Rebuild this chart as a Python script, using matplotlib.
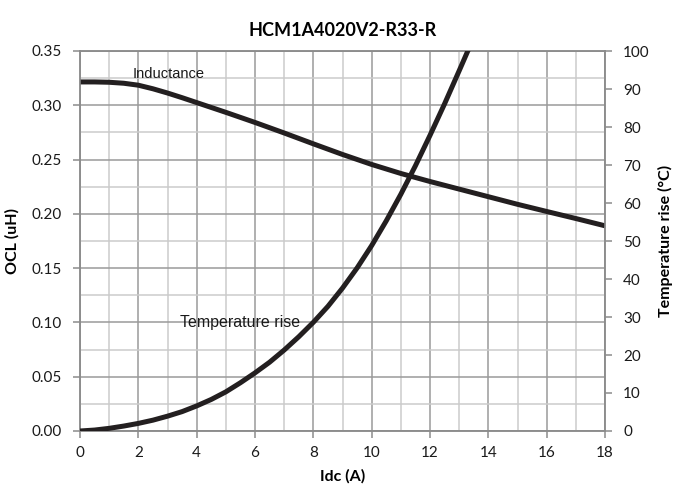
import matplotlib
matplotlib.use("Agg")
import matplotlib.pyplot as plt
from matplotlib.ticker import MultipleLocator

title = "HCM1A4020V2-R33-R"
x_label = "Idc (A)"
y_left_label = "OCL (uH)"
y_right_label = "Temperature rise (°C)"

idc_L = [0, 0.5, 1, 1.5, 2, 2.5, 3, 3.5, 4, 5, 6, 7, 8, 9, 10, 11, 12, 13, 14, 15, 16, 17, 18]
ocl = [0.3215, 0.3215, 0.3212, 0.3203, 0.3185, 0.3152, 0.3113, 0.3070, 0.3025, 0.2935,
       0.2842, 0.2745, 0.2645, 0.2547, 0.2455, 0.2372, 0.2298, 0.2228, 0.2158, 0.2088,
       0.2022, 0.1957, 0.189]

idc_T = [0, 0.5, 1, 1.5, 2, 2.5, 3, 3.5, 4, 4.5, 5, 5.5, 6, 6.5, 7, 7.5, 8, 8.5, 9,
         9.5, 10, 10.5, 11, 11.5, 12, 12.5, 13, 13.5]
temp = [0, 0.25, 0.7, 1.3, 2.0, 2.85, 3.9, 5.1, 6.6, 8.3, 10.3, 12.7, 15.3, 18.1, 21.3,
        24.8, 28.6, 32.8, 37.6, 42.9, 48.8, 55.3, 62.3, 69.8, 77.8, 86.1, 94.8, 103.6]

fig = plt.figure(figsize=(6.75, 4.91), dpi=100)
ax = fig.add_axes([80/675, 60/491, 525/675, 380/491])
ax2 = ax.twinx()

tick_font = "Lato"
grid_major = "#9a9a9a"
grid_minor = "#cbcbcb"
spine_c = "#8c8c8c"
line_c = "#231f20"

ax.set_xlim(0, 18)
ax.set_ylim(0, 0.35)
ax2.set_ylim(0, 100)

ax.xaxis.set_major_locator(MultipleLocator(2))
ax.xaxis.set_minor_locator(MultipleLocator(1))
ax.yaxis.set_major_locator(MultipleLocator(0.05))
ax.yaxis.set_minor_locator(MultipleLocator(0.025))
ax2.yaxis.set_major_locator(MultipleLocator(10))

ax.grid(which="major", color=grid_major, linewidth=1.1, zorder=0)
ax.grid(which="minor", color=grid_minor, linewidth=1.1, zorder=0)
ax.set_axisbelow(True)

ax.plot(idc_L, ocl, color=line_c, linewidth=3.6, solid_capstyle="butt",
        solid_joinstyle="round", zorder=3)
ax2.plot(idc_T, temp, color=line_c, linewidth=3.6, solid_capstyle="butt",
         solid_joinstyle="round", zorder=3)

ax.set_yticks(ax.get_yticks())
ax.set_yticklabels([f"{v:.2f}" for v in ax.get_yticks()])
ax.set_ylim(0, 0.35)

for a in (ax, ax2):
    for s in a.spines.values():
        s.set_color(spine_c)
        s.set_linewidth(1.1)
ax.tick_params(which="major", direction="out", length=5, width=1.1, color=spine_c,
               labelsize=11, labelcolor="#1a1a1a", pad=6)
ax.tick_params(which="minor", length=0)
ax.tick_params(axis="y", pad=8)
ax2.tick_params(which="major", direction="out", length=5, width=1.1, color=spine_c,
                labelsize=11, labelcolor="#1a1a1a", pad=8)
for lbl in ax.get_xticklabels() + ax.get_yticklabels() + ax2.get_yticklabels():
    lbl.set_fontfamily(tick_font)

ax.set_xlabel(x_label, fontfamily="Lato", fontweight="bold", fontsize=11.5, labelpad=6)
ax.set_ylabel(y_left_label, fontfamily="Lato", fontweight="bold", fontsize=11.5, labelpad=9)
ax2.set_ylabel(y_right_label, fontfamily="Lato", fontweight="bold", fontsize=11.5, labelpad=6)
fig.suptitle(title, fontfamily="Lato", fontweight="bold", fontsize=13, x=(80 + 525/2)/675, y=0.955)

ax.text(3.05, 0.329, "Inductance", fontfamily="Liberation Sans", fontsize=10.5,
        color="#1a1a1a", ha="center", va="center", zorder=4)
ax.text(5.5, 0.1, "Temperature rise", fontfamily="Liberation Sans", fontsize=11.5,
        color="#1a1a1a", ha="center", va="center", zorder=4)

fig.savefig("out.png", dpi=100)
